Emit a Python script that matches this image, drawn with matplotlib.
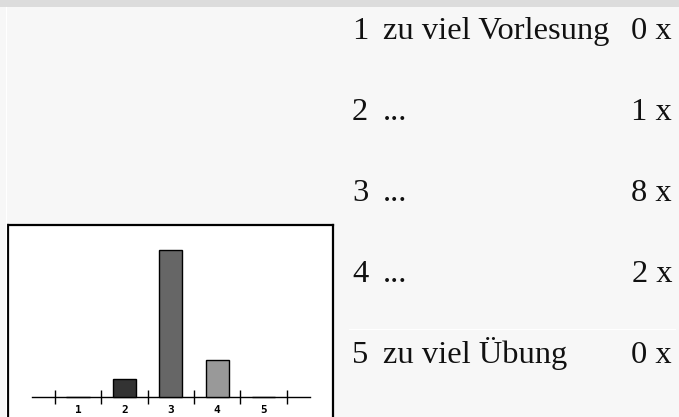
import matplotlib.pyplot as plt
from matplotlib.lines import Line2D
from matplotlib.patches import Rectangle

# Daten
kategorien = [1, 2, 3, 4, 5]
beschriftung = ["zu viel Vorlesung", "...", "...", "...", "zu viel Übung"]
anzahl = [0, 1, 8, 2, 0]
farben = ["#000000", "#333333", "#666666", "#999999", "#cccccc"]

W, H = 679, 417
fig = plt.figure(figsize=(W / 100, H / 100), dpi=100, facecolor="#f7f7f7")


def fx(px):
    return px / W


def fy(py):
    return 1 - py / H


# graue Leiste oben und weiße Linie links
fig.patches.append(Rectangle((0, fy(7)), 1, 7 / H, transform=fig.transFigure,
                             facecolor="#dcdcdc", edgecolor="none"))
fig.lines.append(Line2D([fx(5.5), fx(5.5)], [0, fy(7)], transform=fig.transFigure,
                        color="white", linewidth=0.8))

# Diagramm-Bild
ax = fig.add_axes([fx(8), 0, fx(333) - fx(8), fy(225)])
ax.set_facecolor("white")
ax.bar(kategorien, anzahl, width=0.5, color=farben, edgecolor="black", linewidth=1.0,
       zorder=3)
ax.set_xlim(-0.51, 6.5)
ax.set_ylim(-1.09, 9.35)

for s in ["left", "right", "top"]:
    ax.spines[s].set_linewidth(1.6)
    ax.spines[s].set_color("black")
ax.spines["bottom"].set_position(("data", 0))
ax.spines["bottom"].set_bounds(0, 6)
ax.spines["bottom"].set_linewidth(1.0)

ax.set_yticks([])
ax.set_xticks([k - 0.5 for k in kategorien] + [kategorien[-1] + 0.5])
ax.set_xticklabels([])
ax.tick_params(axis="x", which="major", direction="inout", length=10, width=1.0)
ax.set_xticks(kategorien, minor=True)
ax.set_xticklabels([str(k) for k in kategorien], minor=True,
                   fontfamily="DejaVu Sans Mono", fontweight="bold", fontsize=8)
ax.tick_params(axis="x", which="minor", length=0, pad=6)

# Tabelle rechts
for i, (k, b, n) in enumerate(zip(kategorien, beschriftung, anzahl)):
    y = fy(39 + 81 * i)
    fig.text(fx(352), y, str(k), fontfamily="Liberation Serif", fontsize=23.4,
             va="baseline", ha="left", color="#111111")
    fig.text(fx(383), y, b, fontfamily="Liberation Serif", fontsize=23.4,
             va="baseline", ha="left", color="#111111")
    fig.text(fx(672), y, f"{n} x", fontfamily="Liberation Serif", fontsize=23.4,
             va="baseline", ha="right", color="#111111")

fig.lines.append(Line2D([fx(349), fx(675)], [fy(329), fy(329)], transform=fig.transFigure,
                        color="white", linewidth=0.8))

fig.savefig("out.png", dpi=100, facecolor=fig.get_facecolor())
